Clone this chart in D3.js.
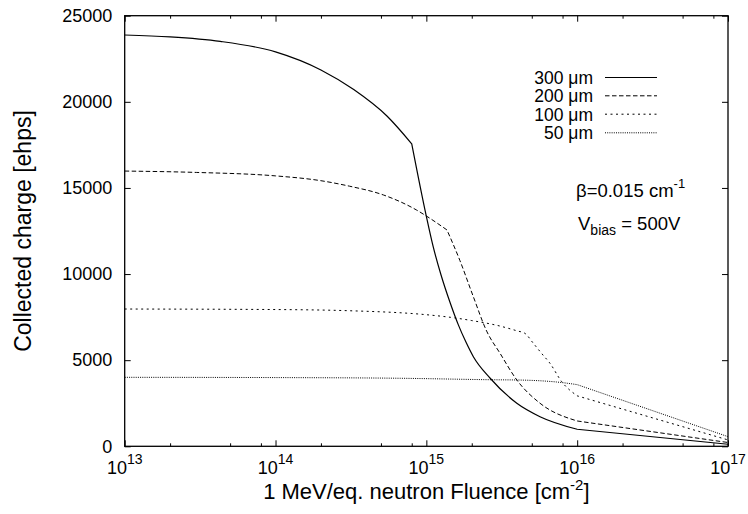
<!DOCTYPE html>
<html>
<head>
<meta charset="utf-8">
<script src="https://cdn.jsdelivr.net/npm/d3@7"></script>
<style>
  html, body { margin: 0; padding: 0; background: #fff; }
  svg { display: block; font-family: "Liberation Sans", Arial, Helvetica, sans-serif; }
</style>
</head>
<body>
<svg id="chart" width="748" height="514"></svg>
<script>
// Collected charge vs. fluence for four sensor thicknesses
const fluence300 = [1e13, 2e13, 4.3e13, 1e14, 2e14, 3.3e14, 5.5e14, 8e14,
                    1e15, 1.11e15, 1.25e15, 1.44e15, 1.63e15, 1.83e15, 2.05e15, 2.65e15, 3.98e15, 5.67e15, 1e16, 1e17];
const charge300  = [23880, 23770, 23510, 22900, 21850, 20710, 19160, 17560,
                    13350, 11590, 9960, 8320, 7050, 6050, 5200, 3950, 2500, 1720, 990, 120];
const kinks300   = [8e14, 1e16];

const fluence200 = [1e13, 3e13, 1e14, 2e14, 3.1e14, 5.2e14, 8.6e14, 1e15, 1.37e15,
                    1.67e15, 2.05e15, 2.51e15, 3.08e15, 3.98e15, 5.67e15, 1e16, 1e17];
const charge200  = [15980, 15900, 15700, 15420, 15100, 14590, 13720, 13370, 12560,
                    10780, 8680, 6690, 5400, 3850, 2500, 1470, 220];
const kinks200   = [1.37e15, 1e16];

const fluence100 = [1e13, 1e14, 3.1e14, 1e15, 1.44e15, 2e15, 3.08e15, 4e15, 4.5e15, 5.1e15,
                    5.8e15, 6.6e15, 7.9e15, 1e16, 1e17];
const charge100  = [7970, 7940, 7870, 7640, 7490, 7300, 6980, 6700, 6560, 6000,
                    5400, 4820, 3750, 2930, 370];
const kinks100   = [1e16];

const fluence50 = [1e13, 1e14, 6.7e14, 3e15, 4e15, 8.1e15, 1e16, 1e17];
const charge50  = [4005, 3990, 3950, 3860, 3850, 3690, 3580, 560];
const kinks50   = [1e16];

const seriesLabels = ["300 μm", "200 μm", "100 μm", "50 μm"];
const majorXTicks = [1e13, 1e14, 1e15, 1e16, 1e17];
const tickExponents = ["13", "14", "15", "16", "17"];
const yTicks = [0, 5000, 10000, 15000, 20000, 25000];
const minorMantissas = [2, 5, 8];

const svg = d3.select("#chart");
const plotL = 124.7, plotR = 728, plotT = 15.7, plotB = 446.3;

const x = d3.scaleLog().domain([1e13, 1e17]).range([plotL, plotR]);
const y = d3.scaleLinear().domain([0, 25000]).range([plotB, plotT]);

const minorXTicks = [];
majorXTicks.slice(0, -1).forEach(d => minorMantissas.forEach(m => minorXTicks.push(d * m)));

// tick marks on all four sides, pointing inward
function strip(g) { g.select(".domain").remove(); g.selectAll("line").attr("stroke", "#000").attr("stroke-width", 1); }

svg.append("g").attr("transform", `translate(0,${plotB})`)
  .call(d3.axisBottom(x).tickValues(majorXTicks).tickSize(-6).tickFormat("")).call(strip);
svg.append("g").attr("transform", `translate(0,${plotB})`)
  .call(d3.axisBottom(x).tickValues(minorXTicks).tickSize(-3).tickFormat("")).call(strip);
svg.append("g").attr("transform", `translate(0,${plotT})`)
  .call(d3.axisTop(x).tickValues(majorXTicks).tickSize(-6).tickFormat("")).call(strip);
svg.append("g").attr("transform", `translate(0,${plotT})`)
  .call(d3.axisTop(x).tickValues(minorXTicks).tickSize(-3).tickFormat("")).call(strip);

const yAxisL = svg.append("g").attr("transform", `translate(${plotL},0)`)
  .call(d3.axisLeft(y).tickValues(yTicks).tickSize(-6).tickPadding(12.4).tickFormat(d3.format("d")))
  .call(strip);
yAxisL.attr("font-size", 18).attr("font-family", "Liberation Sans, Arial, sans-serif");
yAxisL.selectAll("text").attr("fill", "#000");
svg.append("g").attr("transform", `translate(${plotR},0)`)
  .call(d3.axisRight(y).tickValues(yTicks).tickSize(-6).tickFormat("")).call(strip);

// power-of-ten labels under the x axis
const xl = svg.append("g").selectAll("text").data(majorXTicks).join("text")
  .attr("x", d => x(d)).attr("y", 474.3).attr("text-anchor", "middle")
  .attr("font-size", 18).attr("fill", "#000");
xl.append("tspan").text("10");
xl.append("tspan").attr("font-size", 14).attr("dy", -10).text((d, i) => tickExponents[i]);

// frame
svg.append("rect").attr("x", plotL).attr("y", plotT).attr("width", plotR - plotL).attr("height", plotB - plotT)
  .attr("fill", "none").attr("stroke", "#000").attr("stroke-width", 1.3);

// curves: smooth between the kinks, sharp corners at the kinks
const smooth = d3.line().x(d => x(d[0])).y(d => y(d[1])).curve(d3.curveMonotoneX);
function curvePath(f, q, kinks) {
  const pts = d3.zip(f, q);
  const edges = [f[0], ...kinks, f[f.length - 1]];
  let d = "";
  for (let i = 0; i < edges.length - 1; i++) {
    const seg = pts.filter(p => p[0] >= edges[i] && p[0] <= edges[i + 1]);
    let s = smooth(seg);
    if (i > 0) s = s.replace(/^M[^A-Za-z]*/, "");
    d += s;
  }
  return d;
}
const series = [
  { f: fluence300, q: charge300, k: kinks300, dash: null, w: 1.2 },
  { f: fluence200, q: charge200, k: kinks200, dash: "4.5,2.5", w: 1 },
  { f: fluence100, q: charge100, k: kinks100, dash: "2,3.5", w: 1 },
  { f: fluence50,  q: charge50,  k: kinks50,  dash: "1,1.2", w: 1 }
];
series.forEach(s => {
  svg.append("path").attr("d", curvePath(s.f, s.q, s.k))
    .attr("fill", "none").attr("stroke", "#000")
    .attr("stroke-width", s.w).attr("stroke-dasharray", s.dash);
});

// legend
const legendBase = [84, 102.3, 120.7, 139.3];
series.forEach((s, i) => {
  svg.append("text").attr("x", 593).attr("y", legendBase[i]).attr("text-anchor", "end")
    .attr("font-size", 17.5).attr("fill", "#000").text(seriesLabels[i]);
  svg.append("line").attr("x1", 605).attr("x2", 657)
    .attr("y1", legendBase[i] - 6.5).attr("y2", legendBase[i] - 6.5)
    .attr("stroke", "#000").attr("stroke-width", s.w).attr("stroke-dasharray", s.dash);
});

// model parameters
const beta = svg.append("text").attr("x", 576).attr("y", 196.7).attr("font-size", 18.5).attr("fill", "#000");
beta.append("tspan").text("β=0.015 cm");
beta.append("tspan").attr("font-size", 13).attr("dy", -9).text("-1");

const vb = svg.append("text").attr("x", 578).attr("y", 230).attr("font-size", 18.5).attr("fill", "#000");
vb.append("tspan").text("V");
vb.append("tspan").attr("font-size", 14).attr("dy", 5).text("bias");
vb.append("tspan").attr("dy", -5).text(" = 500V");

// axis titles
const xt = svg.append("text").attr("x", (plotL + plotR) / 2).attr("y", 499)
  .attr("text-anchor", "middle").attr("font-size", 22).attr("fill", "#000");
xt.append("tspan").text("1 MeV/eq. neutron Fluence [cm");
xt.append("tspan").attr("font-size", 15).attr("dy", -9).text("-2");
xt.append("tspan").attr("dy", 9).text("]");

svg.append("text").attr("transform", `translate(31,${(plotT + plotB) / 2}) rotate(-90)`)
  .attr("text-anchor", "middle").attr("font-size", 23).attr("fill", "#000")
  .text("Collected charge [ehps]");
</script>
</body>
</html>
